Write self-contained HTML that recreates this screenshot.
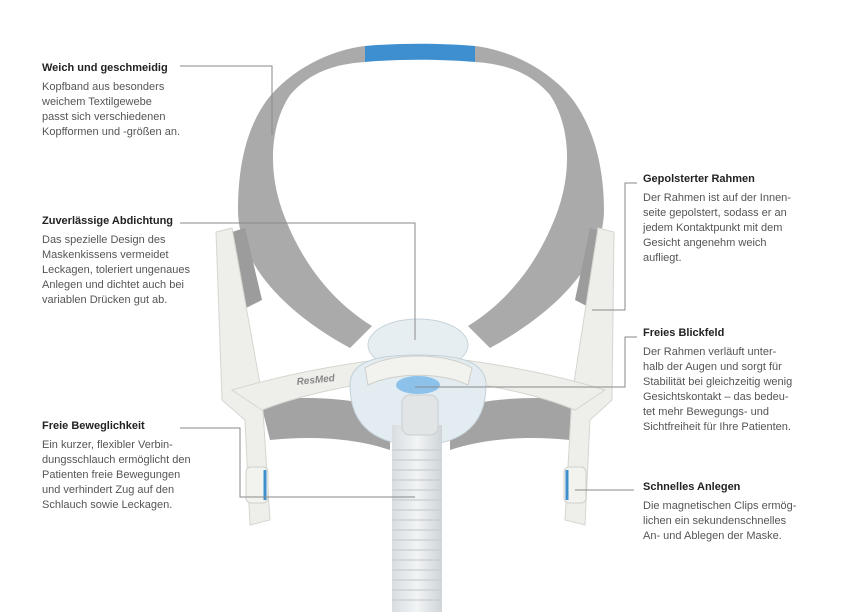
<!DOCTYPE html>
<html><head><meta charset="utf-8"><style>
html,body{margin:0;padding:0;background:#fff;}
svg{display:block}
text{font-family:"Liberation Sans",sans-serif;font-size:11px;fill:#555;}
.t{font-weight:bold;fill:#222;}
</style></head><body>
<svg width="854" height="612" viewBox="0 0 854 612" xmlns="http://www.w3.org/2000/svg">
<defs>
<linearGradient id="tube" x1="0" x2="1"><stop offset="0" stop-color="#d8dde0"/><stop offset="0.5" stop-color="#f2f4f5"/><stop offset="1" stop-color="#cfd5d8"/></linearGradient>
</defs>
<!-- headband -->
<path d="M365 46 C330 50 290 70 267 100 C245 130 238 170 238 210 C238 260 280 310 350 348 L372 326
 C330 300 300 260 282 210 C268 170 270 125 290 95 C310 72 335 64 365 62 Z" fill="#aaaaaa"/>
<path d="M475 46 C510 50 550 70 573 100 C595 130 604 170 604 210 C604 260 560 310 490 348 L468 326
 C510 300 540 260 558 210 C572 170 570 125 550 95 C530 72 505 64 475 62 Z" fill="#aaaaaa"/>
<path d="M365 46 C400 43 440 43 475 46 L475 62 C440 59 400 59 365 62 Z" fill="#3d8fcf"/>
<!-- side pads -->
<path d="M222 235 L245 228 L262 300 L238 312 Z" fill="#9c9c9c"/>
<path d="M612 235 L590 228 L575 300 L598 312 Z" fill="#9c9c9c"/>
<!-- lower straps -->
<path d="M260 400 C320 395 360 400 390 410 L390 450 C360 440 320 435 270 440 Z" fill="#a3a3a3"/>
<path d="M580 400 C520 395 480 400 450 410 L450 450 C480 440 520 435 570 440 Z" fill="#a3a3a3"/>
<!-- frame left -->
<path d="M216 232 L232 228 L262 395 L270 520 L250 525 L245 420 L222 400 Z" fill="#eeeeea" stroke="#d6d6d0"/>
<path d="M232 390 C300 370 360 362 390 358 L390 380 C350 385 300 395 262 410 Z" fill="#eeeeea" stroke="#d6d6d0"/>
<!-- frame right -->
<path d="M614 232 L598 228 L572 395 L565 520 L585 525 L590 420 L612 400 Z" fill="#eeeeea" stroke="#d6d6d0"/>
<path d="M605 390 C540 370 480 362 450 358 L450 380 C490 385 540 395 575 410 Z" fill="#eeeeea" stroke="#d6d6d0"/>
<text x="297" y="385" style="font-size:10px;font-weight:bold;font-style:italic;fill:#888" transform="rotate(-6 297 385)">ResMed</text>
<!-- cushion -->
<ellipse cx="418" cy="345" rx="50" ry="26" fill="#e6eef2" stroke="#c7d3da"/>
<path d="M350 385 C350 360 380 355 418 355 C456 355 486 360 486 385 C486 430 455 445 418 445 C381 445 350 430 350 385Z" fill="#e3ecf1" stroke="#c3d0d8"/>
<path d="M365 368 C390 352 446 352 472 368 L468 385 C440 372 396 372 368 385Z" fill="#f2f2ee" stroke="#cfcfca"/>
<ellipse cx="418" cy="385" rx="22" ry="9" fill="#8cc2ea"/>
<!-- tube -->
<rect x="392" y="425" width="50" height="187" fill="url(#tube)"/>
<rect x="402" y="395" width="36" height="40" rx="8" fill="#e1e5e6" stroke="#c9cfd2"/>
<g stroke="#c8ced1" stroke-width="1.2">
<line x1="392" y1="450" x2="442" y2="450"/><line x1="392" y1="460" x2="442" y2="460"/><line x1="392" y1="470" x2="442" y2="470"/><line x1="392" y1="480" x2="442" y2="480"/><line x1="392" y1="490" x2="442" y2="490"/><line x1="392" y1="500" x2="442" y2="500"/><line x1="392" y1="510" x2="442" y2="510"/><line x1="392" y1="520" x2="442" y2="520"/><line x1="392" y1="530" x2="442" y2="530"/><line x1="392" y1="540" x2="442" y2="540"/><line x1="392" y1="550" x2="442" y2="550"/><line x1="392" y1="560" x2="442" y2="560"/><line x1="392" y1="570" x2="442" y2="570"/><line x1="392" y1="580" x2="442" y2="580"/><line x1="392" y1="590" x2="442" y2="590"/><line x1="392" y1="600" x2="442" y2="600"/>
</g>
<!-- clips -->
<rect x="246" y="467" width="22" height="36" rx="5" fill="#f2f2ef" stroke="#d0d0cc"/>
<line x1="265" y1="470" x2="265" y2="500" stroke="#3d8fcf" stroke-width="3"/>
<rect x="564" y="467" width="22" height="36" rx="5" fill="#f2f2ef" stroke="#d0d0cc"/>
<line x1="567" y1="470" x2="567" y2="500" stroke="#3d8fcf" stroke-width="3"/>
<!-- leader lines -->
<g fill="none" stroke="#8a8a8a" stroke-width="1">
<polyline points="180,66 272,66 272,135"/>
<polyline points="180,223 415,223 415,340"/>
<polyline points="180,428 240,428 240,497 415,497"/>
<polyline points="637,183 625,183 625,310 592,310"/>
<polyline points="637,337 625,337 625,387 415,387"/>
<polyline points="575,490 634,490"/>
</g>
<!-- text left -->
<text class="t" x="42" y="71">Weich und geschmeidig</text>
<text x="42" y="90">Kopfband aus besonders</text>
<text x="42" y="105">weichem Textilgewebe</text>
<text x="42" y="120">passt sich verschiedenen</text>
<text x="42" y="135">Kopfformen und -größen an.</text>
<text class="t" x="42" y="224">Zuverlässige Abdichtung</text>
<text x="42" y="243">Das spezielle Design des</text>
<text x="42" y="258">Maskenkissens vermeidet</text>
<text x="42" y="273">Leckagen, toleriert ungenaues</text>
<text x="42" y="288">Anlegen und dichtet auch bei</text>
<text x="42" y="303">variablen Drücken gut ab.</text>
<text class="t" x="42" y="429">Freie Beweglichkeit</text>
<text x="42" y="448">Ein kurzer, flexibler Verbin-</text>
<text x="42" y="463">dungsschlauch ermöglicht den</text>
<text x="42" y="478">Patienten freie Bewegungen</text>
<text x="42" y="493">und verhindert Zug auf den</text>
<text x="42" y="508">Schlauch sowie Leckagen.</text>
<!-- text right -->
<text class="t" x="643" y="182">Gepolsterter Rahmen</text>
<text x="643" y="201">Der Rahmen ist auf der Innen-</text>
<text x="643" y="216">seite gepolstert, sodass er an</text>
<text x="643" y="231">jedem Kontaktpunkt mit dem</text>
<text x="643" y="246">Gesicht angenehm weich</text>
<text x="643" y="261">aufliegt.</text>
<text class="t" x="643" y="336">Freies Blickfeld</text>
<text x="643" y="355">Der Rahmen verläuft unter-</text>
<text x="643" y="370">halb der Augen und sorgt für</text>
<text x="643" y="385">Stabilität bei gleichzeitig wenig</text>
<text x="643" y="400">Gesichtskontakt – das bedeu-</text>
<text x="643" y="415">tet mehr Bewegungs- und</text>
<text x="643" y="430">Sichtfreiheit für Ihre Patienten.</text>
<text class="t" x="643" y="490">Schnelles Anlegen</text>
<text x="643" y="509">Die magnetischen Clips ermög-</text>
<text x="643" y="524">lichen ein sekundenschnelles</text>
<text x="643" y="539">An- und Ablegen der Maske.</text>
</svg>
</body></html>
